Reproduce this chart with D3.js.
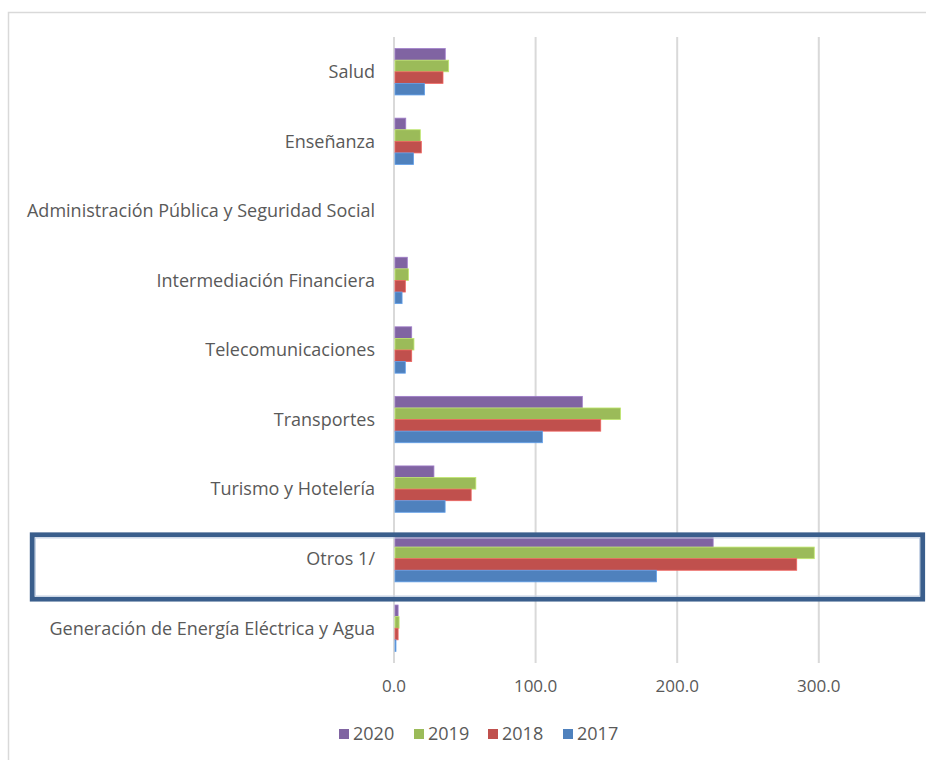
<!DOCTYPE html>
<html lang="es">
<head>
    <meta charset="UTF-8">
    <title>Chart</title>
    <script src="https://cdn.jsdelivr.net/npm/d3@7"></script>
    <style>
        body { margin: 0; background: #fff; }
        text { font-family: "Open Sans", "Liberation Sans", sans-serif; fill: #595959; }
    </style>
</head>
<body>
<script>
    // categories from top to bottom
    const categories = [
        'Salud',
        'Enseñanza',
        'Administración Pública y Seguridad Social',
        'Intermediación Financiera',
        'Telecomunicaciones',
        'Transportes',
        'Turismo y Hotelería',
        'Otros 1/',
        'Generación de Energía Eléctrica y Agua'
    ]
    const years = ['2020', '2019', '2018', '2017']
    const colors = ['#8064a2', '#9bbb59', '#c0504d', '#4f81bd']
    const v2020 = [36.2, 8.3, 0, 9.4, 12.5, 133.0, 28.2, 225.4, 2.9]
    const v2019 = [38.6, 18.6, 0, 10.2, 14.1, 160.0, 57.8, 296.8, 3.6]
    const v2018 = [34.6, 19.3, 0, 8.0, 12.5, 146.0, 54.5, 284.4, 2.9]
    const v2017 = [21.6, 13.8, 0, 5.7, 8.0, 104.8, 36.1, 185.4, 1.4]
    const tickValues = [0, 100, 200, 300]
    const highlighted = 'Otros 1/'

    const series = [v2020, v2019, v2018, v2017]
    const [width, height] = [926, 760]
    const [plotL, plotR, plotT, plotB] = [394, 925, 37, 663]

    const x = d3.scaleLinear().domain([0, 375]).range([plotL, plotR])
    const y = d3.scaleBand().domain(categories).range([plotT, plotB]).paddingInner(1 / 3).paddingOuter(1 / 6)
    const y1 = d3.scaleBand().domain(years).range([0, y.bandwidth()])

    const svg = d3.select('body').append('svg')
        .attr('width', width)
        .attr('height', height)

    // chart area border
    svg.append('rect')
        .attr('x', 8.5).attr('y', 12.5)
        .attr('width', 1000).attr('height', 1000)
        .attr('fill', 'none')
        .attr('stroke', '#d9d9d9')
        .attr('stroke-width', 1.5)

    // grid
    svg.selectAll('line.grid').data(tickValues)
        .enter().append('line').attr('class', 'grid')
        .attr('x1', d => x(d)).attr('x2', d => x(d))
        .attr('y1', plotT).attr('y2', plotB)
        .attr('stroke', '#d9d9d9')
        .attr('stroke-width', 2)

    // bars
    const groups = svg.selectAll('g.cat').data(categories)
        .enter().append('g').attr('class', 'cat')
        .attr('transform', d => `translate(0,${y(d)})`)
    groups.selectAll('rect')
        .data((c, i) => years.map((yr, j) => ({yr, j, v: series[j][i]})).filter(d => d.v > 0))
        .enter().append('rect')
        .attr('x', x(0) + 1)
        .attr('y', d => y1(d.yr))
        .attr('width', d => x(d.v) - x(0) - 1)
        .attr('height', y1.bandwidth())
        .attr('fill', d => colors[d.j])
        .attr('stroke', d => d3.color(colors[d.j]).brighter(0.6))
        .attr('stroke-width', 0.8)

    // category labels
    svg.selectAll('text.cat').data(categories)
        .enter().append('text').attr('class', 'cat')
        .attr('x', 375)
        .attr('y', d => y(d) + y.bandwidth() / 2)
        .attr('dy', '0.35em')
        .attr('text-anchor', 'end')
        .attr('font-size', 18)
        .text(d => d)

    // x axis labels
    svg.selectAll('text.tick').data(tickValues)
        .enter().append('text').attr('class', 'tick')
        .attr('x', d => x(d))
        .attr('y', 692)
        .attr('text-anchor', 'middle')
        .attr('font-size', 17)
        .text(d3.format('.1f'))

    // highlight box
    const hy = y(highlighted) - 0.7
    svg.append('rect')
        .attr('x', 32.2).attr('y', hy)
        .attr('width', 890.5).attr('height', y.bandwidth() + 18)
        .attr('fill', 'none')
        .attr('stroke', '#3a5e8c')
        .attr('stroke-width', 4.8)
    svg.append('rect')
        .attr('x', 35.5).attr('y', hy + 3.2)
        .attr('width', 884).attr('height', y.bandwidth() + 11.6)
        .attr('fill', 'none')
        .attr('stroke', '#c8d4e6')
        .attr('stroke-width', 1)

    // legend
    const legendX = [339, 414, 488, 563]
    const legend = svg.selectAll('g.legend').data(years)
        .enter().append('g').attr('class', 'legend')
        .attr('transform', (d, i) => `translate(${legendX[i]},734)`)
    legend.append('rect')
        .attr('x', 0).attr('y', -5)
        .attr('width', 10).attr('height', 10)
        .attr('fill', (d, i) => colors[i])
    legend.append('text')
        .attr('x', 14)
        .attr('dy', '0.35em')
        .attr('font-size', 18)
        .text(d => d)
</script>
</body>
</html>
